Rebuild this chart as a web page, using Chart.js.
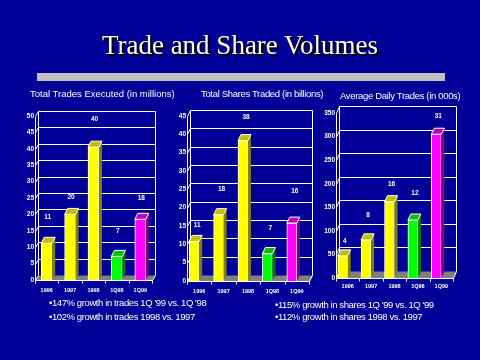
<!DOCTYPE html>
<html>
<head>
<meta charset="utf-8">
<script src="https://cdn.jsdelivr.net/npm/chart.js@4"></script>
<style>
html,body{margin:0;padding:0;background:#000099;overflow:hidden}
#stage{position:relative;width:480px;height:360px;background:#000099;overflow:hidden}
canvas{position:absolute}
.t{position:absolute;color:#fff;white-space:nowrap;font-family:"Liberation Sans",Arial,sans-serif;line-height:1;will-change:transform}
#title{left:0;width:480px;text-align:center;top:32px;font:27px/1 "Liberation Serif","Times New Roman",serif;color:#fff;text-shadow:1px 1px 0 #000,2px 2px 0 #000;}
#rule{position:absolute;left:37px;top:73px;width:408px;height:8px;background:#c0c0c0}
.sub{font-size:9.5px}
.tight{letter-spacing:-.33px}
.bul{font-size:9.5px;letter-spacing:-.4px}
</style>
</head>
<body>
<div id="stage">
<div id="title" class="t">Trade and Share Volumes</div>
<div id="rule"></div>
<div class="t sub" style="left:30px;top:89px">Total Trades Executed (in millions)</div>
<div class="t sub tight" style="left:201px;top:89px">Total Shares Traded (in billions)</div>
<div class="t sub tight" style="left:340px;top:91px">Average Daily Trades (in 000s)</div>
<div class="t bul" style="left:49px;top:298px">•147% growth in trades 1Q '99 vs. 1Q '98</div>
<div class="t bul" style="left:49px;top:312px">•102% growth in trades 1998 vs. 1997</div>
<div class="t bul" style="left:275px;top:300px">•115% growth in shares 1Q '99 vs. 1Q '99</div>
<div class="t bul" style="left:275px;top:312px">•112% growth in shares 1998 vs. 1997</div>
<canvas id="c1"></canvas>
<canvas id="c2"></canvas>
<canvas id="c3"></canvas>
</div>
<script>
const categories = ['1996','1997','1998','1Q98','1Q99'];

const tradesValues = [11.2, 20, 40.5, 7.2, 18.5];
const tradesLabels = ['11','20','40','7','18'];
const tradesLabelHeights = [19, 25.2, 48.9, 14.8, 24.8];

const sharesValues = [10.8, 18.1, 38.3, 7.5, 15.8];
const sharesLabels = ['11','18','38','7','16'];
const sharesLabelHeights = [15.1, 24.9, 44.6, 14.4, 24.5];

const dailyValues = [47, 81, 162, 123, 305];
const dailyLabels = ['4','8','16','12','31'];
const dailyLabelHeights = [79, 134, 199, 180, 344];

const frontColors = ['#ffff00','#ffff00','#ffff00','#00ff00','#ff00ff'];
const sideColors  = ['#808000','#808000','#808000','#008000','#800080'];
const topColors   = ['#c0c000','#c0c000','#c0c000','#00c000','#c000c0'];

const fontFamily = '"Liberation Sans Narrow","Liberation Sans",sans-serif';
const yFont = {family:fontFamily, size:6.5, weight:'bold'};
const xFont = {family:fontFamily, size:5.5, weight:'bold'};

const box3d = {
  id:'box3d',
  beforeDatasetsDraw(chart, args, o){
    const {ctx} = chart, {left,right,top,bottom} = chart.chartArea;
    const dx=o.dx, dy=o.dy, L=left+.5, R=right+.5, B=bottom+.5, T=top+.5;
    ctx.save();
    ctx.fillStyle='#808080';
    ctx.beginPath();ctx.moveTo(L,B);ctx.lineTo(R,B);ctx.lineTo(R+dx,B-dy);ctx.lineTo(L+dx,B-dy);ctx.closePath();ctx.fill();
    ctx.strokeStyle='#fff';ctx.lineWidth=1;
    const seg=(a,b,c,d)=>{ctx.beginPath();ctx.moveTo(a,b);ctx.lineTo(c,d);ctx.stroke();};
    seg(L,T,L,B);
    seg(L+dx,T-dy,L+dx,B-dy);
    seg(R+dx,T-dy,R+dx,B-dy);
    seg(L,B,R,B);
    seg(R,B,R+dx,B-dy);
    const y=chart.scales.y, x=chart.scales.x;
    y.ticks.forEach(t=>{
      const p=Math.round(y.getPixelForValue(t.value))+.5;
      seg(L,p,L+dx,p-dy);
      if(t.value>0) seg(L+dx,p-dy,R+dx,p-dy);
    });
    const w=(right-left)/categories.length;
    for(let i=0;i<=categories.length;i++){const q=Math.round(left+w*i)+.5;seg(q,B,q,B+3);}
    ctx.restore();
  },
  afterDatasetsDraw(chart, args, o){
    const {ctx}=chart, dx=o.dx, dy=o.bar;
    const meta=chart.getDatasetMeta(0), y=chart.scales.y;
    ctx.save();
    meta.data.forEach((b,i)=>{
      const h=b.width/2, l=b.x-h, r=b.x+h, t=b.y, base=b.base;
      ctx.fillStyle=sideColors[i];
      ctx.beginPath();ctx.moveTo(r,t);ctx.lineTo(r+dx,t-dy);ctx.lineTo(r+dx,base-dy);ctx.lineTo(r,base);ctx.closePath();ctx.fill();
      ctx.fillStyle=topColors[i];ctx.strokeStyle='#fff';ctx.lineWidth=1;
      ctx.beginPath();ctx.moveTo(l,t);ctx.lineTo(l+dx,t-dy);ctx.lineTo(r+dx,t-dy);ctx.lineTo(r,t);ctx.closePath();ctx.fill();ctx.stroke();
      ctx.fillStyle='#fff';
      ctx.font='bold 6.5px '+fontFamily;
      ctx.textAlign='center';ctx.textBaseline='middle';
      ctx.fillText(o.labels[i], b.x+o.labelDx, y.getPixelForValue(o.heights[i]));
    });
    ctx.restore();
  }
};

function makeChart(id, cfg){
  const cv=document.getElementById(id);
  cv.width=cfg.cx[1]; cv.height=200;
  cv.style.left=cfg.cx[0]+'px'; cv.style.top='100px';
  const datasets=[{data:cfg.values, backgroundColor:frontColors, borderColor:'#ffffff', borderWidth:1, barThickness:cfg.bw}];
  if(cfg.spacer) datasets.push({data:categories.map(()=>null), backgroundColor:'transparent', barThickness:cfg.bw});
  return new Chart(cv,{
    type:'bar',
    data:{labels:categories,datasets},
    options:{
      responsive:false,animation:false,
      layout:{autoPadding:false,padding:{left:0,top:cfg.top-100,right:cfg.cx[0]+cfg.cx[1]-cfg.right,bottom:0}},
      plugins:{legend:{display:false},tooltip:{enabled:false},
        box3d:{dx:3,dy:cfg.dy,bar:6,labels:cfg.labels,heights:cfg.heights,labelDx:cfg.labelDx}},
      scales:{
        x:{grid:{display:false,drawTicks:false},border:{display:false},
           afterFit(s){s.height=300-cfg.bottom;},
           ticks:{color:'#fff',font:xFont,padding:cfg.xpad,autoSkip:false,maxRotation:0,minRotation:0}},
        y:{min:0,max:cfg.max,grid:{display:false,drawTicks:false},border:{display:false},
           afterFit(s){s.width=cfg.left-cfg.cx[0];},
           ticks:{stepSize:cfg.step,color:'#fff',font:yFont,padding:1}}
      }
    },
    plugins:[box3d]
  });
}

makeChart('c1',{cx:[0,165],left:35,right:152,top:116,bottom:280,max:50,step:5,bw:11,dy:5,
  values:tradesValues,labels:tradesLabels,heights:tradesLabelHeights,labelDx:1,xpad:7,spacer:false});
makeChart('c2',{cx:[165,155],left:187,right:309,top:116,bottom:281,max:45,step:5,bw:10,dy:6,
  values:sharesValues,labels:sharesLabels,heights:sharesLabelHeights,labelDx:3,xpad:7,spacer:true});
makeChart('c3',{cx:[320,160],left:336,right:453,top:113,bottom:278,max:350,step:50,bw:10,dy:7,
  values:dailyValues,labels:dailyLabels,heights:dailyLabelHeights,labelDx:2,xpad:5,spacer:true});
</script>
</body>
</html>
